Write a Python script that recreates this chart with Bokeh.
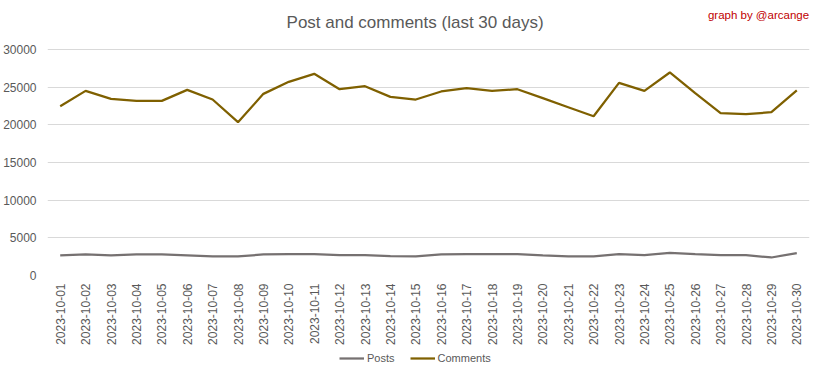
import math
from bokeh.plotting import figure
from bokeh.layouts import column
from bokeh.models import Range1d, FactorRange, Label, Legend, LegendItem
from bokeh.embed import file_html
from bokeh.resources import INLINE

dates = [f"2023-10-{d:02d}" for d in range(1, 31)]
posts = [2660, 2790, 2660, 2790, 2790, 2660, 2525, 2525, 2790, 2835,
         2835, 2700, 2700, 2570, 2525, 2790, 2835, 2835, 2835, 2660,
         2525, 2525, 2835, 2700, 3010, 2835, 2700, 2700, 2390, 2970]
comments = [22470, 24510, 23450, 23180, 23180, 24640, 23360, 20350, 24110, 25710,
            26770, 24730, 25130, 23710, 23360, 24430, 24870, 24510, 24730, 23540,
            22340, 21140, 25570, 24510, 26950, 24200, 21540, 21410, 21680, 24560]
y_ticks = [0, 5000, 10000, 15000, 20000, 25000, 30000]

FONT = "Liberation Sans"
GRAY = "#595959"
POSTS_COLOR = "#767171"
COMMENTS_COLOR = "#7f6000"

p = figure(width=816, height=347, x_range=FactorRange(*dates), y_range=Range1d(0, 36504),
           output_backend="svg", toolbar_location=None,
           min_border_left=42, min_border_right=7, min_border_top=0, min_border_bottom=72)
p.outline_line_color = None
p.border_fill_color = "white"
p.background_fill_color = "white"

p.line(dates, posts, line_color=POSTS_COLOR, line_width=2.25)
p.line(dates, comments, line_color=COMMENTS_COLOR, line_width=2.25)

p.yaxis.ticker = y_ticks
p.yaxis.axis_line_color = None
p.yaxis.major_tick_line_color = None
p.yaxis.minor_tick_line_color = None
p.yaxis.major_tick_out = 0
p.yaxis.minor_tick_out = 0
p.yaxis.major_label_text_font = FONT
p.yaxis.major_label_text_font_size = "12px"
p.yaxis.major_label_text_color = GRAY
p.yaxis.major_label_standoff = 11

p.xaxis.axis_line_color = None
p.xaxis.major_tick_line_color = None
p.xaxis.major_tick_out = 0
p.xaxis.major_label_orientation = math.pi / 2
p.xaxis.major_label_text_font = FONT
p.xaxis.major_label_text_font_size = "12px"
p.xaxis.major_label_text_color = GRAY
p.xaxis.major_label_standoff = 8

p.xgrid.grid_line_color = None
p.ygrid.grid_line_color = "#d9d9d9"
p.ygrid.grid_line_width = 1

title = Label(x=14.47, y=33584, text="Post and comments (last 30 days)", text_align="center",
              text_baseline="middle", text_font=FONT, text_font_size="17px", text_color=GRAY)
credit = Label(x=26.0, y=34513, text="graph by @arcange", text_align="left",
               text_baseline="middle", text_font=FONT, text_font_size="11.5px", text_color="#c00000")
p.add_layout(title)
p.add_layout(credit)

# legend strip below the chart
lg = figure(width=816, height=22, x_range=FactorRange(*dates), y_range=Range1d(-2, -1),
            output_backend="svg", toolbar_location=None, x_axis_type=None, y_axis_type=None,
            min_border_left=0, min_border_right=0, min_border_top=0, min_border_bottom=0)
lg.outline_line_color = None
lg.grid.grid_line_color = None
l1 = lg.line(dates, posts, line_color=POSTS_COLOR, line_width=2.25)
l2 = lg.line(dates, comments, line_color=COMMENTS_COLOR, line_width=2.25)
legend = Legend(items=[LegendItem(label="Posts", renderers=[l1]),
                       LegendItem(label="Comments", renderers=[l2])],
                orientation="horizontal", location=(292, 4),
                label_text_font=FONT, label_text_font_size="11px", label_text_color=GRAY,
                border_line_color=None, background_fill_alpha=0,
                glyph_width=25, glyph_height=14, label_height=14,
                label_standoff=3, spacing=15, padding=0, margin=0)
lg.add_layout(legend)

layout = column(p, lg, spacing=0)
open("out.html", "w").write(file_html(layout, INLINE))
